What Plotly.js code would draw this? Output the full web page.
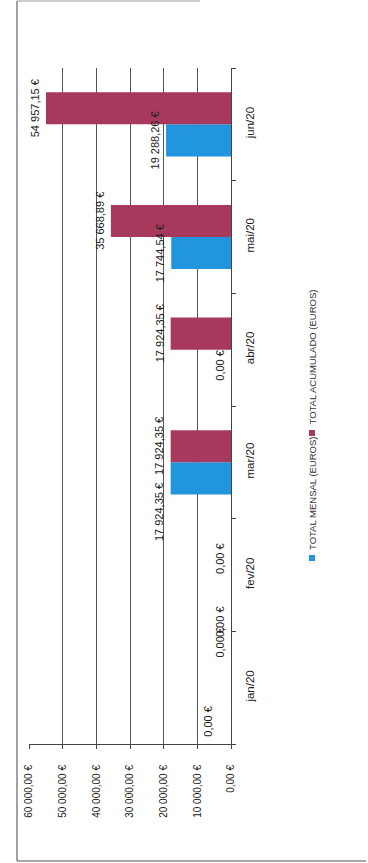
<!DOCTYPE html>
<html>
<head>
<meta charset="utf-8">
<script src="https://cdn.plot.ly/plotly-3.0.1.min.js"></script>
<style>
  html, body { margin: 0; padding: 0; background: #fff; }
  #chart { width: 368px; height: 863px; }
</style>
</head>
<body>
<div id="chart"></div>
<script>
// ---- data ----
const categories = ["jan/20", "fev/20", "mar/20", "abr/20", "mai/20", "jun/20"];
const seriesNames = ["TOTAL MENSAL (EUROS)", "TOTAL ACUMULADO (EUROS)"];
const totalMensal = [0, 0, 17924.35, 0, 17744.54, 19288.26];
const totalAcumulado = [0, 0, 17924.35, 17924.35, 35668.89, 54957.15];
const valueTicks = [0, 10000, 20000, 30000, 40000, 50000, 60000];
const valueTickLabels = ["0,00 €", "10 000,00 €", "20 000,00 €", "30 000,00 €", "40 000,00 €", "50 000,00 €", "60 000,00 €"];

// ---- style ----
const colors = ["#2196de", "#a73a5c"];
// manual data-label nudges (pixels; dy positive = down, dx positive = right), as in the source document
const labelNudges = [
  [{ dy: 18, dx: -12 }, { dy: 31 }, { dy: 34 }, {}, {}, {}],
  [{ dy: -29 }, {}, {}, {}, {}, {}]
];
const W = 368, H = 863;
const L = 29, R = 231, T = 68, B = 744;
const BARGAP = 0.43;
const px2x = p => (p - L) / (R - L);
const px2y = p => (B - p) / (B - T);
const font = "Liberation Sans, Arial, sans-serif";

function fmtEuro(v) {
  const parts = v.toFixed(2).split(".");
  const intPart = parts[0].replace(/\B(?=(\d{3})+(?!\d))/g, " ");
  return intPart + "," + parts[1] + " €";
}

const seriesValues = [totalMensal, totalAcumulado];

const data = seriesValues.map((vals, i) => ({
  type: "bar",
  orientation: "h",
  name: seriesNames[i],
  y: categories,
  x: vals,
  marker: { color: colors[i], line: { width: 0 } },
  hoverinfo: "skip"
}));

// data labels, positioned through the axes
const catPx = (B - T) / categories.length;
const halfBar = (1 - BARGAP) / 4 * catPx; // center offset of each bar in the group
const labelAnnotations = [];
seriesValues.forEach((vals, i) => {
  vals.forEach((v, j) => {
    const n = labelNudges[i][j] || {};
    const baseShift = (i === 0 ? -halfBar : halfBar);
    labelAnnotations.push({
      xref: "x", yref: "y", x: v, y: categories[j],
      xanchor: "center", yanchor: "middle",
      xshift: -11 + (n.dx || 0),
      yshift: baseShift - (n.dy || 0),
      textangle: -90, showarrow: false,
      text: fmtEuro(v),
      font: { family: font, size: 11, color: "#222" }
    });
  });
});

const shapes = [
  // outer frame
  { type: "line", xref: "paper", yref: "paper", x0: px2x(17), x1: px2x(17), y0: px2y(1), y1: px2y(861), line: { color: "#444", width: 1 } },
  { type: "line", xref: "paper", yref: "paper", x0: px2x(17), x1: px2x(366), y0: px2y(861), y1: px2y(861), line: { color: "#555", width: 1 } },
  { type: "line", xref: "paper", yref: "paper", x0: px2x(17), x1: px2x(200), y0: px2y(1), y1: px2y(1), line: { color: "#999", width: 1 } },
  // legend squares
  { type: "rect", xref: "paper", yref: "paper", x0: px2x(309), x1: px2x(315), y0: px2y(561), y1: px2y(555), fillcolor: colors[0], line: { width: 0 } },
  { type: "rect", xref: "paper", yref: "paper", x0: px2x(309), x1: px2x(315), y0: px2y(436), y1: px2y(430), fillcolor: colors[1], line: { width: 0 } }
];

const legendAnnotations = [
  { xref: "paper", yref: "paper", x: px2x(312), y: px2y(552), xanchor: "center", yanchor: "bottom", textangle: -90, showarrow: false,
    text: seriesNames[0], font: { family: font, size: 9.5, color: "#333" } },
  { xref: "paper", yref: "paper", x: px2x(312), y: px2y(427), xanchor: "center", yanchor: "bottom", textangle: -90, showarrow: false,
    text: seriesNames[1], font: { family: font, size: 9.5, color: "#333" } }
];

const layout = {
  width: W, height: H,
  margin: { l: L, r: W - R, t: T, b: H - B, pad: 0 },
  paper_bgcolor: "#fff",
  plot_bgcolor: "#fff",
  barmode: "group",
  bargap: BARGAP,
  bargroupgap: 0,
  showlegend: false,
  font: { family: font, size: 10, color: "#222" },
  xaxis: {
    range: [60000, 0],
    tickvals: valueTicks,
    ticktext: valueTickLabels,
    tickangle: -90,
    showgrid: true,
    gridcolor: "#555",
    gridwidth: 1,
    zeroline: false,
    showline: true,
    linecolor: "#444",
    linewidth: 1,
    ticks: "outside",
    ticklen: 4,
    tickcolor: "#444",
    ticklabelstandoff: 12,
    tickfont: { family: font, size: 10, color: "#222" },
    fixedrange: true
  },
  yaxis: {
    type: "category",
    categoryorder: "array",
    categoryarray: categories,
    side: "right",
    tickangle: -90,
    showgrid: false,
    zeroline: false,
    showline: true,
    linecolor: "#444",
    linewidth: 1,
    ticks: "outside",
    tickson: "boundaries",
    ticklen: 4,
    tickcolor: "#444",
    ticklabelstandoff: 8,
    tickfont: { family: font, size: 11.5, color: "#222" },
    fixedrange: true
  },
  shapes: shapes,
  annotations: labelAnnotations.concat(legendAnnotations)
};

Plotly.newPlot("chart", data, layout, { displayModeBar: false, staticPlot: true });
</script>
</body>
</html>
